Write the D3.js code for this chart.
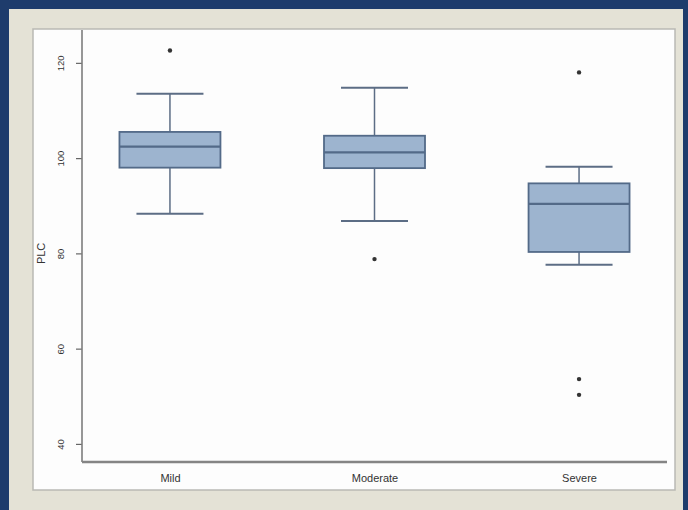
<!DOCTYPE html>
<html>
<head>
<meta charset="utf-8">
<script src="https://cdn.jsdelivr.net/npm/d3@7/dist/d3.min.js"></script>
<style>
  html, body { margin: 0; padding: 0; background: #1e3c6c; }
  svg { display: block; }
  text { font-family: "Liberation Sans", Arial, sans-serif; fill: #333; }
</style>
</head>
<body>
<svg id="chart" width="688" height="510"></svg>
<script>
// Groups along the x axis
const categories = ["Mild", "Moderate", "Severe"];
// Five-number summaries per group (lower whisker, Q1, median, Q3, upper whisker)
const whiskerLow  = [88.3, 86.8, 77.6];
const quartile1   = [98.0, 97.9, 80.3];
const medians     = [102.4, 101.2, 90.4];
const quartile3   = [105.5, 104.7, 94.7];
const whiskerHigh = [113.5, 114.8, 98.2];
// Points beyond the whiskers
const outliers = [[122.6], [78.8], [118.0, 53.6, 50.3]];
// Y axis ticks and title
const yTicks = [40, 60, 80, 100, 120];
const yTitle = "PLC";

const svg = d3.select("#chart");

// Window background layers
svg.append("rect").attr("x", 0).attr("y", 0).attr("width", 688).attr("height", 510).attr("fill", "#1e3c6c");
svg.append("rect").attr("x", 9).attr("y", 9).attr("width", 674).attr("height", 501).attr("fill", "#e4e2d6");
svg.append("rect").attr("x", 33).attr("y", 29).attr("width", 642).attr("height", 461)
  .attr("fill", "#fdfdfd").attr("stroke", "#b9b9b4").attr("stroke-width", 1.5);

const plotLeft = 82, plotRight = 667, plotTop = 30, plotBottom = 462;

const x = d3.scalePoint().domain(categories).range([plotLeft, plotRight]).padding(0.43);
const y = d3.scaleLinear().domain([36.2, 126.9]).range([plotBottom, plotTop]);

const boxW = 101, capW = 67;

const data = categories.map((c, i) => ({
  c, lo: whiskerLow[i], q1: quartile1[i], med: medians[i], q3: quartile3[i], hi: whiskerHigh[i], out: outliers[i]
}));

const g = svg.append("g");
const boxes = g.selectAll("g.box").data(data).join("g").attr("class", "box");

const lineCol = "#5c6d85";
// whisker stems
boxes.append("line").attr("x1", d => x(d.c)).attr("x2", d => x(d.c))
  .attr("y1", d => y(d.q3)).attr("y2", d => y(d.hi)).attr("stroke", lineCol).attr("stroke-width", 1.5);
boxes.append("line").attr("x1", d => x(d.c)).attr("x2", d => x(d.c))
  .attr("y1", d => y(d.q1)).attr("y2", d => y(d.lo)).attr("stroke", lineCol).attr("stroke-width", 1.5);
// whisker caps
boxes.append("line").attr("x1", d => x(d.c) - capW / 2).attr("x2", d => x(d.c) + capW / 2)
  .attr("y1", d => y(d.hi)).attr("y2", d => y(d.hi)).attr("stroke", lineCol).attr("stroke-width", 2);
boxes.append("line").attr("x1", d => x(d.c) - capW / 2).attr("x2", d => x(d.c) + capW / 2)
  .attr("y1", d => y(d.lo)).attr("y2", d => y(d.lo)).attr("stroke", lineCol).attr("stroke-width", 2);
// interquartile box
boxes.append("rect").attr("x", d => x(d.c) - boxW / 2).attr("width", boxW)
  .attr("y", d => y(d.q3)).attr("height", d => y(d.q1) - y(d.q3))
  .attr("fill", "#9db4cf").attr("stroke", "#536a88").attr("stroke-width", 1.8);
// median
boxes.append("line").attr("x1", d => x(d.c) - boxW / 2).attr("x2", d => x(d.c) + boxW / 2)
  .attr("y1", d => y(d.med)).attr("y2", d => y(d.med)).attr("stroke", "#536a88").attr("stroke-width", 2.2);
// outliers
boxes.selectAll("circle").data(d => d.out.map(v => ({ c: d.c, v }))).join("circle")
  .attr("cx", d => x(d.c)).attr("cy", d => y(d.v)).attr("r", 2.2).attr("fill", "#333");

// Y axis
const yAxis = svg.append("g").attr("transform", `translate(${plotLeft},0)`)
  .call(d3.axisLeft(y).tickValues(yTicks).tickSize(6).tickFormat(d3.format("d")));
yAxis.select(".domain").remove();
yAxis.selectAll(".tick line").attr("stroke", "#666").attr("stroke-width", 1.2);
yAxis.selectAll(".tick text")
  .attr("transform", "rotate(-90)").attr("x", 0).attr("y", -21).attr("dy", "0.35em")
  .attr("text-anchor", "middle").style("font-size", "9.5px").attr("fill", "#444");

// Axis lines
svg.append("line").attr("x1", plotLeft).attr("x2", plotLeft).attr("y1", plotTop).attr("y2", plotBottom)
  .attr("stroke", "#7d7d7d").attr("stroke-width", 1.6);
svg.append("line").attr("x1", plotLeft).attr("x2", plotRight).attr("y1", plotBottom).attr("y2", plotBottom)
  .attr("stroke", "#858585").attr("stroke-width", 2.6);

// X axis labels
const xAxis = svg.append("g").attr("transform", `translate(0,${plotBottom})`)
  .call(d3.axisBottom(x).tickSize(0).tickPadding(12));
xAxis.select(".domain").remove();
xAxis.selectAll(".tick text").style("font-size", "11px").attr("fill", "#444");

// Y title
svg.append("text").attr("transform", `translate(41,${y(80)}) rotate(-90)`)
  .attr("text-anchor", "middle").attr("dy", "0.35em").style("font-size", "11px").attr("fill", "#444")
  .text(yTitle);
</script>
</body>
</html>
